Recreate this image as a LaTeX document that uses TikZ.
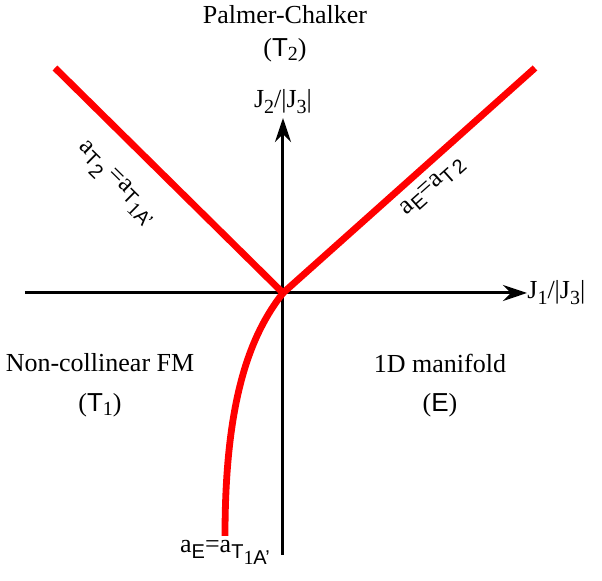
\documentclass[tikz,border=0pt]{standalone}
\usepackage{fontspec}
\setmainfont{Liberation Serif}
\setsansfont{Liberation Sans}
\usepackage{tikz}
\usetikzlibrary{arrows.meta, positioning, calc}

% chi so duoi (ha thap, co chu nho)
\newcommand\lowr[2]{\raisebox{-#1}{\fontsize{10}{10}\selectfont #2}}

\begin{document}
\begin{tikzpicture}[
        x=0.5pt, y=-0.5pt,
        axis/.style = {line width=1.5pt, -{Stealth[length=12pt, width=8pt]}},
        border/.style = {draw=red, line width=3.4pt},
        phase/.style = {align=center, font=\fontsize{13}{15}\selectfont},
        lbl/.style = {inner sep=1pt, font=\fontsize{13}{15}\selectfont}
    ]

    \useasboundingbox (0,0) rectangle (602,581);

    % --- KHAI BAO CAC DIEM ---
    \coordinate (o) at (283,293);
    \coordinate (xl) at (25,293);
    \coordinate (xr) at (527,293);
    \coordinate (yb) at (283,555);
    \coordinate (yt) at (283,118);
    \coordinate (pl) at (55,68);
    \coordinate (pr) at (535,68);
    \coordinate (pb) at (225,536);

    % --- NHAN PHA ---
    \node[phase] (pc) at (285,15) {Palmer-Chalker};
    \node[phase] (pct) at (285,50) {(\textsf{T}\lowr{2pt}{2})};
    \node[phase] (fm) at (100,363) {Non-collinear FM};
    \node[phase] (fmt) at (100,405) {(\textsf{T}\lowr{2pt}{1})};
    \node[phase] (md) at (440,363) {1D manifold};
    \node[phase] (mde) at (440,405) {(\textsf{E})};

    % --- TRUC ---
    \draw[axis] (xl) -- (xr);
    \draw[axis] (yb) -- (yt);
    \node[lbl, anchor=west, inner sep=0pt] (j1) at (xr) {J\lowr{3pt}{1}/|J\lowr{3pt}{3}|};
    \node[lbl, above=1pt of yt] (j2) {J\lowr{3pt}{2}/|J\lowr{3pt}{3}|};

    % --- DUONG BIEN ---
    \draw[border] (pl) -- (o);
    \draw[border] (pr) -- (o);
    \draw[border] (o) .. controls (250,335) and (225,400) .. (pb);

    % --- NHAN DUONG BIEN ---
    \node[lbl, rotate=-44.6] (tl) at (116,184) {a\lowr{3pt}{\textsf{T}}\lowr{6pt}{\textsf{2}}\,=a\lowr{3pt}{\textsf{T}}\lowr{6pt}{1\textsf{A'}}};
    \node[lbl, rotate=41.8] (tr) at (433,187) {a\lowr{3pt}{\textsf{E}}=a\lowr{3pt}{\textsf{T\,2}}};
    \node[lbl, below=1pt of pb] (tb) {a\lowr{3pt}{\textsf{E}}=a\lowr{3pt}{\textsf{T}}\lowr{6pt}{1\textsf{A'}}};

\end{tikzpicture}
\end{document}
